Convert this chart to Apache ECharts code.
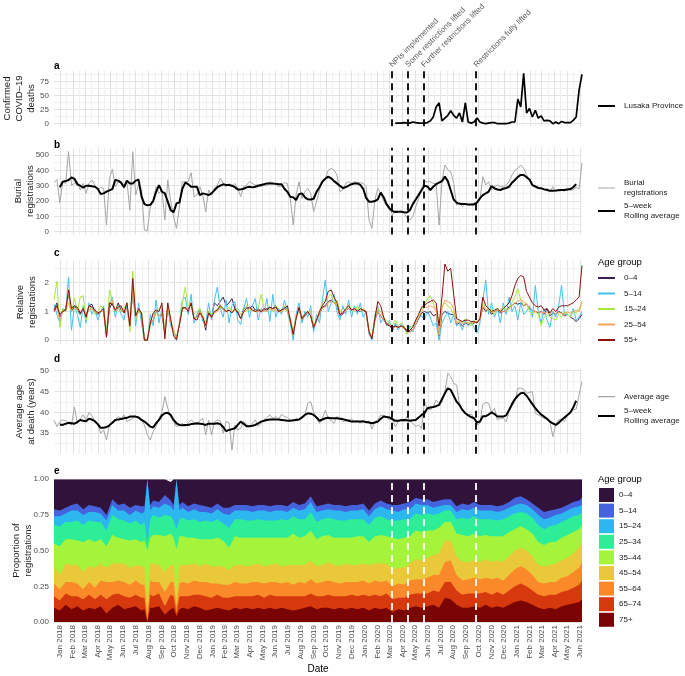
<!DOCTYPE html>
<html>
<head>
<meta charset="utf-8">
<title>Lusaka burial registrations</title>
<script src="https://cdn.jsdelivr.net/npm/echarts@6/dist/echarts.min.js"></script>
<style>
html,body{margin:0;padding:0;background:#ffffff;}
#chart{width:685px;height:676px;}
</style>
</head>
<body>
<div id="chart"></div>
<script>
// ---------------- data ----------------
const START_WEEK = '2017-12-17';            // date of the first weekly value
const MONTHS = ['Jan','Feb','Mar','Apr','May','Jun','Jul','Aug','Sep','Oct','Nov','Dec'];
const EVENT_DATES  = ['2020-03-07','2020-04-14','2020-05-22','2020-09-25'];
const EVENT_LABELS = ['NPIs implemented','Some restrictions lifted','Further restrictions lifted','Restrictions fully lifted'];

// panel a: confirmed COVID-19 deaths, Lusaka Province (weekly, from week 117)
const COVID_FIRST_WEEK = 117;
const covidDeaths = [1,1,1,2,1,1,3,2,1,1, 1,2,5,12,30,37,5,10,15,23, 15,10,19,3,37,3,1,3,10,3,
  1,0,1,2,2,0,0,0,0,1, 3,3,44,30,90,19,27,12,24,10, 14,5,6,5,0,3,0,4,2,2, 2,6,12,60,88];

// panel b: weekly burial registrations and 5-week rolling average
const burials = [320,341,189,326,315,522,304,315,326,272, 315,250,315,337,304,272,290,283,43,348,
  407,293,326,315,283,326,141,522,239,310, 272,11,7,163,207,293,250,272,76,337,
  196,98,22,163,326,326,326,385,228,239, 293,239,130,272,239,283,304,348,315,293,
  315,293,315,283,228,293,304,326,315,304, 304,293,304,300,326,315,310,293,300,320,
  315,217,43,239,326,217,261,283,250,130, 196,272,337,348,400,413,402,370,261,272,
  315,326,315,326,320,320,315,293,76,22, 207,283,250,200,170,163,109,137,130,137,
  120,90,76,98,163,217,283,326,326,326, 315,315,43,330,435,402,391,315,174,190,
  163,185,174,180,185,200,207,359,304,326, 272,290,304,293,293,304,326,370,400,413,
  435,413,370,337,304,293,283,283,272,283, 261,293,261,275,272,265,280,270,275,290, 280,448];
const burialsRolling = [null,null,290,326,330,337,354,345,309,300, 287,300,300,296,293,280,246,250,261,270,
  278,337,333,320,290,333,315,315,333,340, 230,180,172,175,200,260,304,261,250,196,
  141,128,185,190,280,320,310,293,293,293, 239,250,245,239,250,270,290,300,309,305,
  305,300,290,276,276,280,289,293,289,293, 300,305,310,315,315,315,312,310,310,280,
  260,228,224,207,245,250,225,211,210,215, 260,290,326,345,359,348,330,315,300,285,
  290,300,310,315,315,305,280,220,196,196, 200,211,255,225,180,152,135,128,130,130,
  127,125,140,180,210,240,270,300,295,272, 293,310,320,330,359,330,270,210,190,182,
  180,180,178,178,178,190,217,239,250,262, 298,283,275,272,280,285,293,320,337,358,
  370,370,355,340,304,295,285,283,276,272, 267,267,268,270,272,272,275,278,290,310, null,null];

// panel c: relative registrations by age group (weekly)
const rel0to4 = [1.05,1.3,0.8,1.0,1.1,1.6,1.0,1.2,1.05,0.9, 1.1,0.85,1.2,1.25,1.0,0.9,1.0,1.0,0.15,1.1,
  1.3,1.0,1.3,1.05,0.95,1.2,0.55,1.7,0.8,1.05, 0.9,0.05,0.02,0.55,0.7,1.0,0.85,0.9,0.25,1.15,
  0.65,0.3,0.1,0.55,1.15,1.1,1.1,1.25,0.75,0.8, 1.0,0.8,0.35,1.0,0.8,1.3,1.2,1.35,1.5,1.2,
  1.3,1.45,1.1,1.0,0.75,1.1,1.15,1.1,1.2,1.05, 1.1,1.0,1.05,1.1,1.15,1.1,1.2,1.0,1.05,1.15,
  1.05,0.65,0.25,0.8,1.1,0.7,0.85,0.95,0.85,0.4, 0.7,0.9,1.15,1.2,1.35,1.4,1.3,1.2,0.85,0.9,
  1.05,1.1,1.05,1.1,1.05,1.0,1.05,0.95,0.3,0.1, 0.7,1.0,0.85,0.7,0.6,0.55,0.35,0.5,0.45,0.5,
  0.45,0.35,0.3,0.35,0.55,0.75,0.95,1.0,0.95,1.0, 0.85,0.9,0.15,0.9,1.0,0.95,0.9,0.9,0.55,0.6,
  0.5,0.6,0.55,0.6,0.6,0.65,0.7,1.15,1.0,1.1, 0.9,1.0,1.05,0.95,1.0,1.05,1.15,1.2,1.3,1.25,
  1.3,1.2,1.25,1.1,1.05,1.0,0.95,1.0,0.9,1.1, 0.85,0.95,0.9,1.0,0.95,0.85,0.9,0.8,0.75,0.65, 0.75,0.9];
const rel5to14 = [1.25,0.9,0.6,1.1,1.0,2.2,0.35,1.2,0.9,0.45, 1.2,0.6,1.3,0.9,1.1,0.7,1.0,1.2,0.25,1.2,
  1.5,0.8,1.2,0.9,0.7,1.3,0.45,1.8,0.5,1.3, 0.6,0.0,0.0,0.9,0.5,1.4,0.6,1.1,0.2,1.2,
  0.5,0.3,0.0,0.6,1.4,1.5,0.9,1.6,0.6,0.9, 1.1,0.65,0.55,1.3,0.7,1.4,1.85,1.1,0.8,1.4,
  0.6,1.2,1.35,0.7,0.55,1.1,1.45,0.8,1.2,1.45, 0.7,1.1,1.0,1.45,0.65,1.6,0.8,1.1,0.9,1.4,
  1.0,0.6,0.0,0.9,1.3,0.6,1.0,0.8,1.2,0.3, 0.9,0.6,1.4,2.1,1.0,1.3,1.6,1.0,0.7,1.2,
  0.9,1.4,0.8,1.2,0.9,1.3,0.8,1.0,0.2,0.0, 0.9,1.2,0.6,0.8,0.5,0.7,0.3,0.6,0.35,0.55,
  0.4,0.3,0.5,0.3,0.6,0.8,0.85,0.7,1.0,0.8, 0.5,0.6,0.0,0.6,0.8,1.0,0.6,0.9,0.5,0.6,
  0.35,0.7,0.5,0.6,0.45,0.25,0.6,1.4,2.1,0.9, 1.3,0.8,1.1,0.6,1.3,0.9,1.5,1.0,1.2,0.7,
  1.3,0.9,1.0,1.2,0.8,1.9,1.0,0.6,1.1,0.7, 0.45,1.0,0.8,1.2,1.9,0.9,0.9,0.8,1.1,0.7, 0.8,1.0];
const rel15to24 = [1.4,2.05,0.45,1.1,1.0,1.3,1.0,1.45,1.0,1.5, 1.55,0.7,1.2,1.1,0.9,1.0,1.2,1.1,0.2,1.75,
  1.4,1.0,1.2,1.0,1.1,1.3,0.3,2.4,0.7,1.0, 1.0,0.0,0.0,0.7,0.9,1.0,1.1,1.2,0.3,1.2,
  0.7,0.35,0.05,0.6,1.3,1.85,1.2,1.3,0.9,1.0, 1.1,0.9,0.5,1.0,0.9,1.0,1.1,1.25,1.1,1.0,
  1.15,1.0,1.05,1.1,0.9,1.0,1.2,1.0,1.1,1.0, 1.1,1.6,1.1,1.0,1.1,1.0,1.2,1.1,1.0,1.2,
  1.0,0.8,0.3,0.8,1.1,0.8,0.9,1.0,1.0,0.5, 0.7,1.0,1.3,1.4,1.5,1.6,1.3,1.4,1.0,1.1,
  1.0,1.2,1.1,1.0,1.2,1.0,1.1,1.0,0.35,0.1, 0.8,1.1,1.0,0.8,0.7,0.6,0.5,0.7,0.5,0.6,
  0.5,0.2,0.45,0.5,0.7,0.9,1.1,1.2,1.45,1.55, 1.3,1.0,0.2,1.2,1.3,1.2,1.1,0.9,0.6,0.7,
  0.6,0.75,0.6,0.5,0.7,0.6,0.7,1.3,1.1,1.0, 1.1,0.9,1.1,1.0,1.2,1.0,1.1,1.3,1.5,1.8,
  1.4,1.2,1.3,1.0,0.9,1.0,0.9,0.5,0.8,0.9, 0.8,0.75,0.7,0.9,0.8,1.0,0.9,0.8,1.0,0.95, 1.1,1.3];
const rel25to54 = [1.05,1.1,0.7,1.0,1.05,1.6,1.0,1.1,1.1,0.95, 1.05,0.85,1.05,1.1,1.0,0.95,1.0,1.0,0.15,1.2,
  1.4,1.0,1.1,1.05,0.95,1.1,0.5,1.75,0.8,1.05, 0.9,0.05,0.03,0.55,0.7,1.0,0.85,0.95,0.25,1.15,
  0.65,0.3,0.08,0.55,1.1,1.1,1.1,1.3,0.8,0.8, 1.0,0.8,0.45,0.9,0.8,0.95,1.0,1.15,1.05,1.0,
  1.05,0.98,1.05,0.95,0.78,0.98,1.02,1.1,1.05,1.02, 1.0,0.98,1.02,1.0,1.1,1.05,1.05,0.98,1.0,1.08,
  1.05,0.72,0.15,0.8,1.1,0.72,0.88,0.95,0.85,0.45, 0.65,0.92,1.12,1.15,1.3,1.35,1.3,1.2,0.88,0.92,
  1.05,1.1,1.05,1.08,1.05,1.05,1.05,1.0,0.25,0.08, 0.7,1.0,0.85,0.7,0.58,0.55,0.38,0.47,0.45,0.48,
  0.42,0.3,0.28,0.35,0.56,0.8,1.0,1.15,1.15,1.2, 1.15,1.1,0.2,1.1,1.4,1.35,1.3,1.1,0.6,0.65,
  0.58,0.62,0.6,0.6,0.62,0.65,0.7,1.2,1.05,1.1, 0.95,1.0,1.05,1.0,1.0,1.05,1.1,1.2,1.3,1.35,
  1.4,1.35,1.25,1.15,1.05,1.0,0.98,0.98,0.95,0.98, 0.9,1.0,0.9,0.95,0.95,0.92,0.98,0.95,1.0,1.05, 1.0,1.35];
const rel55plus = [1.0,1.2,0.9,1.0,1.05,1.75,1.1,1.2,1.15,0.95, 1.1,0.8,1.2,1.15,1.05,0.95,1.0,1.1,0.1,1.3,
  1.25,1.05,1.15,1.2,0.95,1.3,0.5,2.15,0.85,1.1, 0.95,0.0,0.0,0.6,0.95,1.05,1.0,1.3,0.05,1.3,
  0.75,0.15,0.02,0.55,1.1,1.15,1.0,1.3,0.75,0.7, 0.95,0.8,0.5,0.95,0.8,1.0,1.05,1.2,1.1,1.0,
  1.05,0.95,1.1,0.95,0.75,1.0,1.1,1.15,1.05,1.0, 1.05,1.0,1.1,1.05,1.15,1.1,1.15,1.0,1.05,1.1,
  1.2,0.7,0.2,0.75,1.15,0.75,0.9,1.0,0.85,0.45, 0.7,1.0,1.2,1.35,1.7,1.75,1.5,1.3,0.9,0.95,
  1.1,1.2,1.05,1.1,1.0,1.1,1.05,1.0,0.3,0.05, 0.75,1.35,1.2,0.8,0.55,0.5,0.45,0.5,0.45,0.5,
  0.45,0.3,0.35,0.45,0.7,0.9,1.15,1.2,1.3,1.35, 1.4,1.3,0.5,1.5,2.65,2.4,2.5,1.6,0.75,0.7,
  0.65,0.7,0.7,0.65,0.65,0.6,0.75,1.5,1.2,1.1, 1.0,1.05,1.1,1.0,1.1,1.2,1.3,1.55,1.9,2.15,
  2.25,2.2,1.7,1.5,1.3,1.2,1.15,1.2,1.05,1.1, 0.95,1.1,1.0,1.15,1.2,1.2,1.2,1.25,1.3,1.4, 1.5,2.6];

// panel d: average age at death (years), weekly and 5-week rolling average
const avgAge = [38.2,36.6,37.8,38.2,38.0,37.4,37.0,41.3,37.4,38.5, 39.4,38.2,40.0,39.2,37.8,37.0,35.0,35.8,33.4,37.0,
  37.8,38.2,39.0,38.6,39.4,37.8,38.2,38.6,39.0,38.6, 38.2,37.0,34.6,33.4,35.5,36.6,38.6,40.0,43.8,41.0,
  39.0,37.8,36.6,36.9,37.4,36.6,37.5,38.2,37.6,37.0, 38.0,38.6,34.6,38.2,34.6,37.8,38.2,38.0,35.0,37.8,
  37.6,31.0,37.0,35.8,36.2,37.8,37.2,36.6,37.4,38.2, 36.6,37.4,38.2,38.8,39.4,38.6,39.0,38.4,39.5,39.0,
  38.8,38.2,37.8,38.6,38.2,39.0,39.4,42.2,42.6,40.0, 38.6,37.4,38.6,40.5,38.6,38.0,37.4,39.0,38.6,37.8,
  38.0,38.2,38.4,37.8,38.0,37.4,38.2,37.4,38.0,36.0, 37.8,38.2,39.4,39.2,39.0,38.2,38.4,36.6,37.8,38.4,
  37.8,39.0,38.0,37.4,36.6,37.0,36.0,42.6,41.0,40.6, 41.4,43.0,42.2,42.4,45.0,49.4,48.5,47.0,46.6,41.8,
  40.6,39.8,39.4,39.6,38.6,37.0,37.4,42.0,42.4,42.2, 40.0,41.0,38.2,38.6,38.6,37.8,40.2,41.5,42.6,45.8,
  45.8,45.6,44.6,44.8,45.0,39.8,39.4,39.0,38.6,38.2, 37.8,34.2,37.0,38.2,38.4,37.8,39.4,40.2,40.6,40.8, 44.2,47.4];
const avgAgeRolling = [null,null,37.1,37.0,37.3,37.5,37.4,37.3,37.7,38.2, 38.0,37.9,38.5,38.3,37.9,37.2,36.3,36.3,36.5,36.9,
  37.5,38.2,38.3,38.4,38.6,38.7,39.0,39.0,39.0,38.8, 38.2,37.8,37.2,36.6,36.4,37.4,38.2,39.3,39.8,39.9,
  39.4,38.2,37.4,37.0,36.9,37.0,37.0,37.2,37.3,37.4, 37.3,37.2,37.0,37.3,37.3,37.3,37.4,37.2,36.5,35.5,
  35.8,36.0,36.2,37.0,37.8,37.3,36.7,36.7,36.8,37.0, 37.4,37.8,38.0,38.2,38.3,38.3,38.3,38.3,38.2,38.1,
  38.0,38.0,38.1,38.2,38.3,38.8,39.4,39.8,39.7,39.4, 38.8,38.0,38.3,38.6,38.7,38.6,38.6,38.6,38.5,38.4,
  38.2,38.0,37.8,37.8,37.8,37.8,37.8,37.7,37.6,37.4, 37.6,37.8,38.5,39.0,38.9,38.8,38.4,38.0,38.0,38.1,
  38.2,38.1,38.0,38.1,38.2,38.8,39.4,39.8,41.0,41.2, 41.3,41.5,41.8,43.2,44.6,45.8,45.4,44.0,42.6,41.8,
  40.6,39.8,39.3,38.9,38.6,37.6,37.8,39.1,39.1,39.5, 40.0,39.6,39.0,39.0,39.0,39.3,40.6,42.0,43.2,44.0,
  44.6,44.7,44.0,43.0,42.0,41.0,40.2,39.5,39.0,38.5, 37.8,37.4,37.0,37.5,38.2,38.8,39.4,40.0,41.2,42.8, null,null];

// panel e: proportion of registrations by age group (mostly every second week; weekly around the two low-count spikes)
const propWeeks = [0,2,4,6,8,10,12,14,16,18, 20,22,24,26,28,30,31,32,33,34,36,38, 40,41,42,43,44,46,48,50,52,54,56,58,
  60,62,64,66,68,70,72,74,76,78, 80,82,84,86,88,90,92,94,96,98, 100,102,104,106,108,110,112,114,116,118,
  120,122,124,126,128,130,132,134,136,138, 140,142,144,146,148,150,152,154,156,158, 160,162,164,166,168,170,172,174,176,178, 180,181];
const prop75plus = [.10,.08,.12,.09,.11,.08,.10,.09,.11,.06, .10,.12,.09,.10,.11,.08,.09,.00,.10,.10,.11,.05,
  .09,.10,.04,.09,.10,.09,.11,.10,.08,.09,.10,.09, .08,.10,.09,.10,.09,.10,.09,.10,.09,.10,
  .09,.08,.09,.10,.11,.09,.10,.10,.09,.10, .09,.10,.09,.10,.08,.10,.09,.10,.07,.09,
  .08,.10,.11,.10,.11,.12,.10,.17,.16,.12, .10,.10,.11,.10,.12,.10,.11,.10,.12,.14,
  .15,.14,.12,.10,.09,.10,.09,.11,.12,.13, .14,.16];
const prop65to74 = [.08,.07,.08,.09,.07,.08,.09,.07,.08,.10, .09,.08,.09,.07,.08,.09,.08,.00,.09,.08,.09,.06,
  .10,.08,.02,.09,.08,.09,.08,.09,.10,.08,.09,.08, .09,.08,.09,.08,.09,.09,.08,.09,.09,.08,
  .09,.10,.09,.08,.09,.09,.08,.09,.09,.08, .09,.09,.09,.09,.10,.09,.09,.10,.09,.08,
  .09,.09,.09,.10,.09,.10,.11,.11,.12,.10, .09,.10,.09,.10,.09,.09,.10,.09,.10,.11,
  .12,.11,.10,.09,.09,.09,.10,.10,.10,.11, .12,.13];
const prop55to64 = [.09,.08,.08,.10,.09,.07,.09,.08,.10,.12, .09,.09,.10,.09,.10,.09,.09,.05,.10,.10,.08,.10,
  .09,.10,.05,.09,.10,.09,.10,.09,.10,.10,.08,.09, .09,.10,.09,.09,.10,.09,.10,.09,.10,.09,
  .10,.08,.10,.09,.10,.09,.10,.10,.10,.09, .10,.09,.10,.10,.09,.10,.10,.09,.09,.10,
  .09,.10,.10,.10,.11,.11,.12,.14,.15,.11, .10,.10,.11,.10,.10,.11,.10,.10,.11,.12,
  .12,.12,.11,.09,.09,.09,.09,.10,.10,.11, .12,.13];
const prop45to54 = [.12,.10,.13,.12,.13,.12,.11,.14,.12,.10, .13,.12,.13,.12,.11,.13,.12,.10,.12,.13,.12,.14,
  .12,.12,.10,.13,.12,.13,.12,.11,.13,.12,.12,.13, .10,.12,.13,.12,.12,.13,.12,.12,.13,.12,
  .12,.14,.12,.13,.13,.12,.12,.13,.12,.12, .13,.12,.12,.12,.13,.12,.13,.12,.12,.11,
  .12,.12,.14,.13,.14,.14,.15,.15,.14,.13, .13,.12,.12,.12,.13,.12,.12,.13,.13,.13,
  .13,.13,.13,.12,.12,.12,.13,.12,.13,.13, .14,.14];
const prop35to44 = [.16,.20,.17,.18,.17,.21,.19,.18,.17,.15, .20,.18,.17,.19,.18,.17,.19,.35,.18,.20,.21,.25,
  .22,.19,.30,.20,.20,.19,.18,.19,.17,.19,.20,.18, .16,.20,.19,.20,.19,.18,.20,.19,.18,.20,
  .19,.22,.19,.20,.21,.19,.20,.19,.19,.20, .18,.19,.20,.19,.16,.19,.20,.19,.22,.20,
  .21,.19,.20,.20,.19,.17,.18,.13,.13,.16, .19,.18,.19,.18,.17,.18,.17,.18,.17,.15,
  .15,.15,.16,.16,.15,.16,.15,.16,.16,.15, .13,.12];
const prop25to34 = [.13,.14,.12,.12,.14,.12,.13,.14,.12,.11, .14,.13,.13,.12,.13,.12,.13,.05,.13,.14,.12,.15,
  .12,.12,.14,.12,.13,.12,.13,.12,.13,.12,.13,.12, .14,.12,.13,.12,.12,.13,.12,.12,.12,.13,
  .12,.12,.13,.12,.13,.12,.12,.12,.13,.12, .12,.13,.12,.12,.12,.13,.13,.12,.12,.13,
  .13,.12,.12,.12,.12,.11,.10,.08,.08,.10, .12,.12,.12,.12,.11,.12,.11,.12,.11,.11,
  .10,.11,.11,.12,.11,.11,.12,.11,.11,.11, .10,.09];
const prop15to24 = [.06,.07,.06,.08,.07,.07,.06,.07,.06,.07, .07,.06,.07,.06,.07,.08,.07,.45,.06,.06,.07,.08,
  .07,.07,.35,.06,.07,.06,.07,.07,.06,.06,.07,.07, .09,.06,.06,.07,.06,.06,.07,.06,.07,.06,
  .06,.06,.06,.07,.07,.07,.06,.06,.06,.07, .06,.06,.06,.07,.06,.06,.07,.07,.07,.06,
  .07,.07,.07,.07,.06,.05,.05,.04,.04,.05, .06,.06,.06,.06,.06,.06,.06,.06,.06,.06,
  .06,.06,.06,.07,.07,.06,.07,.06,.06,.06, .06,.05];
const prop5to14 = [.05,.04,.04,.04,.05,.04,.05,.04,.04,.04, .04,.04,.05,.05,.04,.05,.04,.00,.04,.04,.04,.06,
  .04,.04,.00,.04,.04,.04,.04,.05,.04,.04,.04,.04, .05,.04,.04,.04,.04,.04,.04,.04,.04,.04,
  .04,.04,.04,.04,.04,.04,.04,.04,.04,.04, .04,.04,.04,.04,.04,.04,.04,.04,.04,.05,
  .04,.05,.04,.04,.04,.04,.04,.04,.04,.04, .04,.04,.04,.04,.04,.04,.04,.04,.04,.05,
  .05,.04,.04,.05,.05,.05,.04,.04,.04,.04, .04,.05];
const prop0to4 = [.21,.22,.20,.18,.17,.21,.18,.19,.20,.25, .14,.18,.17,.20,.18,.19,.19,.00,.18,.15,.16,.11,
  .13,.18,.00,.18,.16,.19,.17,.18,.19,.20,.17,.20, .20,.18,.18,.18,.19,.18,.18,.19,.18,.18,
  .19,.16,.18,.17,.12,.19,.18,.17,.18,.18, .19,.18,.18,.17,.22,.17,.15,.17,.18,.18,
  .17,.16,.13,.14,.14,.16,.15,.14,.14,.19, .17,.18,.16,.18,.18,.18,.19,.18,.16,.13,
  .12,.14,.17,.20,.23,.22,.21,.20,.18,.16, .15,.13];

// ---------------- helpers ----------------
const FONT = '"Liberation Sans", Arial, Helvetica, sans-serif';
const DAY = 86400000;
const START_UTC = Date.parse(START_WEEK + 'T00:00:00Z');
function weekT(i) { return START_UTC + i * 7 * DAY; }
function pairs(arr, offset) {
  const out = [];
  arr.forEach((v, k) => { if (v !== null && v !== undefined) out.push([weekT(k + (offset || 0)), v]); });
  return out;
}
function expandRange(arrs) {
  const vals = [].concat(...arrs).filter(v => v !== null && v !== undefined);
  const lo = Math.min(...vals), hi = Math.max(...vals), r = hi - lo;
  return [lo - 0.05 * r, hi + 0.05 * r];
}
function seq(a, b, step) { const o = []; for (let v = a; v <= b + 1e-9; v += step) o.push(+v.toFixed(4)); return o; }
const stripName = n => (n.indexOf('|') >= 0 ? n.split('|')[1] : n);
const eventT = EVENT_DATES.map(d => Date.parse(d + 'T00:00:00Z'));

const X_MIN = weekT(0), X_MAX = weekT(burials.length - 1);
// month starts (major grid) and mid-months (minor grid), as timestamps on a value axis
const monthStarts = [], gridTicks = [];
for (let m = -1; m <= 42; m++) {
  const a = Date.UTC(2018, m, 1), b = Date.UTC(2018, m + 1, 1);
  if (a >= X_MIN && a <= X_MAX) { monthStarts.push(a); gridTicks.push(a); }
  const mid = (a + b) / 2;
  if (mid >= X_MIN && mid <= X_MAX) gridTicks.push(mid);
}
gridTicks.sort((p, q) => p - q);

const GRIDS = [
  { top: 70.8, height: 55.4 },
  { top: 147.7, height: 86.9 },
  { top: 260.2, height: 83.9 },
  { top: 369.4, height: 84.4 },
  { top: 479.2, height: 142.8 }
];
const MAJOR = '#e2e2e2', MINOR = '#f0f0f0';

function xAxisDef(gi, last) {
  const ax = {
    type: 'value', gridIndex: gi, min: X_MIN, max: X_MAX,
    axisLine: { show: false },
    axisTick: { show: false, customValues: gridTicks },
    splitLine: { show: true, lineStyle: { color: [MAJOR, MINOR], width: 1 } },
    axisLabel: { show: false }
  };
  if (last) {
    ax.axisLabel = {
      show: true, customValues: monthStarts, rotate: 90, margin: 3,
      fontSize: 8, color: '#4d4d4d', fontFamily: FONT,
      formatter: v => { const d = new Date(v); return MONTHS[d.getUTCMonth()] + ' ' + d.getUTCFullYear(); }
    };
    ax.name = 'Date'; ax.nameLocation = 'middle'; ax.nameGap = 41;
    ax.nameTextStyle = { fontSize: 10, color: '#000', fontFamily: FONT };
  }
  return ax;
}
function yAxisDef(gi, range, ticks, labels, fmt, minorFirst) {
  return {
    type: 'value', gridIndex: gi, min: range[0], max: range[1],
    axisLine: { show: false },
    axisTick: { show: false, customValues: ticks },
    splitLine: { show: true, lineStyle: { color: minorFirst ? [MINOR, MAJOR] : [MAJOR, MINOR], width: 1 } },
    axisLabel: { customValues: labels, formatter: fmt, fontSize: 8, color: '#4d4d4d', margin: 5, fontFamily: FONT }
  };
}
function eventLines(color) {
  return {
    silent: true, symbol: ['none', 'none'], label: { show: false },
    lineStyle: { type: [7, 5], width: 1.8, color: color, opacity: 1 },
    emphasis: { disabled: true },
    data: eventT.map(t => ({ xAxis: t }))
  };
}

// ---------------- series ----------------
const series = [];
series.push({ name: 'Lusaka Province', type: 'line', xAxisIndex: 0, yAxisIndex: 0, symbol: 'none',
  data: pairs(covidDeaths, COVID_FIRST_WEEK), lineStyle: { color: '#000', width: 1.7 }, itemStyle: { color: '#000' },
  markLine: eventLines('#000') });

series.push({ name: 'Burial\nregistrations', type: 'line', xAxisIndex: 1, yAxisIndex: 1, symbol: 'none',
  data: pairs(burials), lineStyle: { color: '#a6a6a6', width: 1 }, itemStyle: { color: '#a6a6a6' } });
series.push({ name: 'b|5\u2013week\nRolling average', type: 'line', xAxisIndex: 1, yAxisIndex: 1, symbol: 'none',
  data: pairs(burialsRolling), lineStyle: { color: '#000', width: 2 }, itemStyle: { color: '#000' },
  markLine: eventLines('#000') });

const C_NAMES = ['0\u20134', '5\u201314', '15\u201324', '25\u201354', '55+'];
const C_COLORS = ['#3d1f52', '#45c0ef', '#a6e83c', '#f8a35c', '#8c1010'];
const C_DATA = [rel0to4, rel5to14, rel15to24, rel25to54, rel55plus];
C_DATA.forEach((arr, k) => {
  const s = { name: 'c|' + C_NAMES[k], type: 'line', xAxisIndex: 2, yAxisIndex: 2, symbol: 'none',
    data: pairs(arr), lineStyle: { color: C_COLORS[k], width: 1 }, itemStyle: { color: C_COLORS[k] } };
  if (k === C_DATA.length - 1) s.markLine = eventLines('#000');
  series.push(s);
});

series.push({ name: 'Average age', type: 'line', xAxisIndex: 3, yAxisIndex: 3, symbol: 'none',
  data: pairs(avgAge), lineStyle: { color: '#a6a6a6', width: 1 }, itemStyle: { color: '#a6a6a6' } });
series.push({ name: 'd|5\u2013week\nRolling average', type: 'line', xAxisIndex: 3, yAxisIndex: 3, symbol: 'none',
  data: pairs(avgAgeRolling), lineStyle: { color: '#000', width: 2 }, itemStyle: { color: '#000' },
  markLine: eventLines('#000') });

// panel e: stacked proportions. Each band's upper edge is the running total from the oldest group up;
// bands are filled down to 0 and painted from the top group downwards so each lower band covers the rest.
const E_NAMES = ['0\u20134', '5\u201314', '15\u201324', '25\u201334', '35\u201344', '45\u201354', '55\u201364', '65\u201374', '75+'];
const E_COLORS = ['#30123b', '#4463dd', '#2cb8ee', '#2ded97', '#a6f33b', '#e9c83a', '#fa8a29', '#d6390d', '#7a0403'];
const E_DATA = [prop0to4, prop5to14, prop15to24, prop25to34, prop35to44, prop45to54, prop55to64, prop65to74, prop75plus];
const E_STACKED = [];
let running = propWeeks.map(() => 0);
for (let k = E_DATA.length - 1; k >= 0; k--) {
  running = running.map((r, j) => r + E_DATA[k][j]);
  E_STACKED[k] = running.slice();
}
E_STACKED.forEach((edge, k) => {
  const s = { name: 'e|' + E_NAMES[k], type: 'line', xAxisIndex: 4, yAxisIndex: 4, symbol: 'none',
    data: edge.map((v, j) => [weekT(propWeeks[j]), v]),
    lineStyle: { width: 0 }, areaStyle: { color: E_COLORS[k], opacity: 1, origin: 'start' },
    itemStyle: { color: E_COLORS[k] }, color: E_COLORS[k] };
  if (k === E_STACKED.length - 1) s.markLine = eventLines('#ffffff');
  series.push(s);
});

// ---------------- legends ----------------
function lineIcon(th) {
  const a = (5 - th / 2).toFixed(2), b = (5 + th / 2).toFixed(2);
  return 'path://M0,0L17,0L17,0.01L0,0.01Z M0,' + a + 'L17,' + a + 'L17,' + b + 'L0,' + b + 'Z M0,10L17,10L17,10.01L0,10.01Z';
}
const legText = { fontSize: 8, color: '#1a1a1a', fontFamily: FONT, lineHeight: 10 };
const lineLegText = Object.assign({}, legText, { padding: [0, 0, 0, 4] });
function lineLegend(names, top, th, extra) {
  return Object.assign({ data: names, orient: 'vertical', left: 598, top: top, padding: 0, itemWidth: 17, itemHeight: 10,
    itemGap: 5.5, selectedMode: false, formatter: stripName, textStyle: lineLegText, icon: lineIcon(th) }, extra || {});
}
const legends = [
  lineLegend(['Lusaka Province'], 101, 2),
  lineLegend(['Burial\nregistrations'], 178, 1.2),
  lineLegend(['b|5\u2013week\nRolling average'], 201, 2.2),
  lineLegend(C_NAMES.map(n => 'c|' + n), 273, 1.8),
  lineLegend(['Average age'], 391.7, 1.2),
  lineLegend(['d|5\u2013week\nRolling average'], 406, 2.2),
  { data: E_NAMES.map(n => 'e|' + n), orient: 'vertical', left: 599, top: 488, padding: 0, icon: 'rect',
    itemWidth: 15, itemHeight: 14, itemGap: 1.6, selectedMode: false, formatter: stripName, textStyle: legText }
];

// ---------------- axes ----------------
const rangeA = expandRange([covidDeaths]);
const rangeB = expandRange([burials, burialsRolling]);
const rangeC = expandRange(C_DATA);
const rangeD = expandRange([avgAge, avgAgeRolling]);

const option = {
  animation: false,
  backgroundColor: '#ffffff',
  textStyle: { fontFamily: FONT },
  grid: GRIDS.map(g => ({ left: 54, right: 103, top: g.top, height: g.height, containLabel: false })),
  xAxis: [0, 1, 2, 3, 4].map(i => xAxisDef(i, i === 4)),
  yAxis: [
    yAxisDef(0, rangeA, seq(0, 87.5, 12.5), [0, 25, 50, 75], v => String(v)),
    yAxisDef(1, rangeB, seq(0, 500, 50), [0, 100, 200, 300, 400, 500], v => String(v)),
    yAxisDef(2, rangeC, seq(0, 2.5, 0.5), [0, 1, 2], v => String(v)),
    yAxisDef(3, rangeD, seq(32.5, 50, 2.5), [35, 40, 45, 50], v => String(v), true),
    yAxisDef(4, [0, 1], seq(0, 1, 0.125), [0, 0.25, 0.5, 0.75, 1], v => v.toFixed(2))
  ],
  legend: legends,
  series: series
};

const chart = echarts.init(document.getElementById('chart'), null, { renderer: 'canvas', width: 685, height: 676 });
chart.setOption(option);

// ---------------- text: tags, axis titles, legend titles, event annotations ----------------
const graphics = [];
const TAGS = ['a', 'b', 'c', 'd', 'e'];
const TAG_Y = [66, 145, 253, 359, 471.5];
TAGS.forEach((t, k) => graphics.push({ type: 'text', x: 54, y: TAG_Y[k], silent: true,
  style: { text: t, fontSize: 10, fontWeight: 'bold', fontFamily: FONT, fill: '#000', align: 'left', verticalAlign: 'middle' } }));
const Y_TITLES = ['Confirmed\nCOVID\u201319\ndeaths', 'Burial\nregistrations', 'Relative\nregistrations', 'Average age\nat death (years)', 'Proportion of\nregistrations'];
const Y_TITLE_X = [19, 24, 26, 25, 22.5];
Y_TITLES.forEach((t, k) => graphics.push({ type: 'text', x: Y_TITLE_X[k], y: GRIDS[k].top + GRIDS[k].height / 2,
  rotation: Math.PI / 2, silent: true,
  style: { text: t, fontSize: 9.5, lineHeight: 12, fontFamily: FONT, fill: '#1a1a1a', align: 'center', verticalAlign: 'middle' } }));
[262, 479].forEach(y => graphics.push({ type: 'text', x: 598, y: y, silent: true,
  style: { text: 'Age group', fontSize: 9.5, fontFamily: FONT, fill: '#000', align: 'left', verticalAlign: 'middle' } }));
eventT.forEach((t, k) => {
  const px = chart.convertToPixel({ xAxisIndex: 0 }, t);
  graphics.push({ type: 'text', x: px - 1, y: 66, rotation: Math.PI / 4, silent: true,
    style: { text: EVENT_LABELS[k], fontSize: 8, fontFamily: FONT, fill: '#5a5a5a', align: 'left', verticalAlign: 'middle' } });
});
chart.setOption({ graphic: graphics });
</script>
</body>
</html>
